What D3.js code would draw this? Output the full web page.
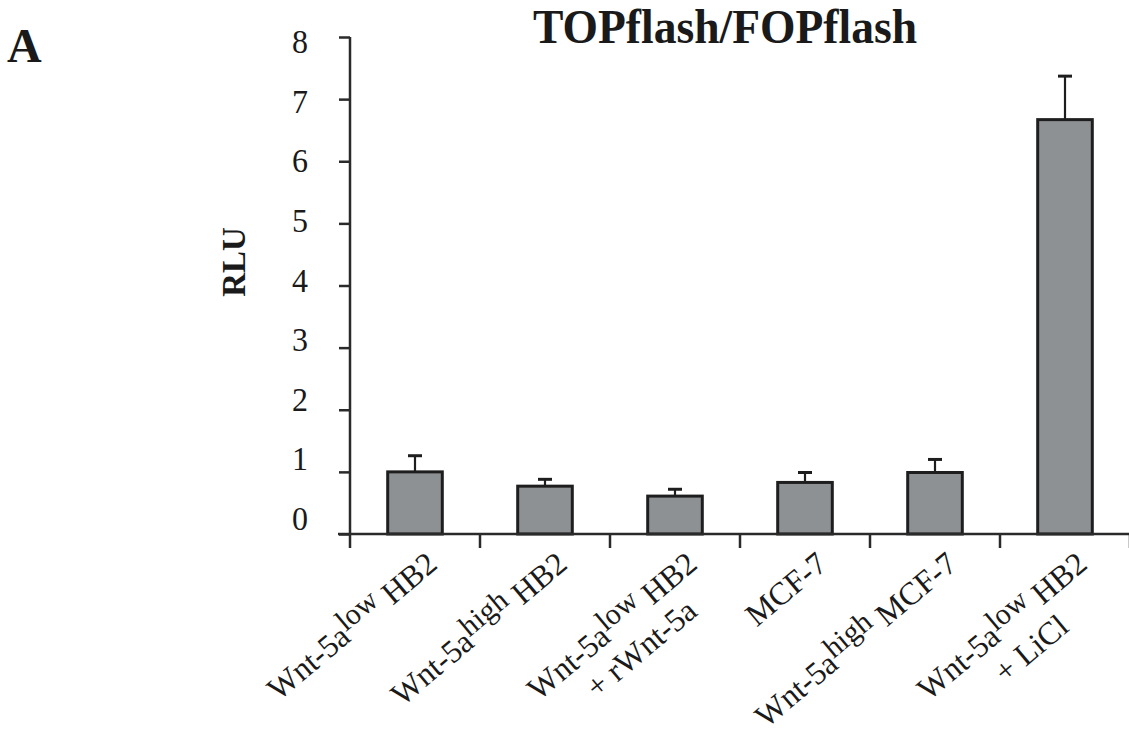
<!DOCTYPE html>
<html>
<head>
<meta charset="utf-8">
<script src="https://cdn.jsdelivr.net/npm/d3@7"></script>
<style>
  html, body { margin: 0; padding: 0; background: #fff; }
  svg { display: block; }
  text { font-family: "Liberation Serif", "Times New Roman", serif; fill: #1a1a1a; }
</style>
</head>
<body>
<svg id="chart" width="1129" height="733"></svg>
<script>
// ---- data ----
const categories = ["c1", "c2", "c3", "c4", "c5", "c6"];
const labelMain  = ["Wnt-5a", "Wnt-5a", "Wnt-5a", "MCF-7", "Wnt-5a", "Wnt-5a"];
const labelSup   = ["low", "high", "low", "", "high", "low"];
const labelRest  = [" HB2", " HB2", " HB2", "", " MCF-7", " HB2"];
const labelLine2 = ["", "", "+ rWnt-5a", "", "", "+ LiCl"];
const values     = [1.00, 0.77, 0.61, 0.83, 0.99, 6.67];
const errors     = [0.26, 0.11, 0.11, 0.16, 0.21, 0.70];
const yTicks     = [0, 1, 2, 3, 4, 5, 6, 7, 8];
const titleText  = "TOPflash/FOPflash";
const yTitle     = "RLU";
const panelLetter = "A";

// ---- layout ----
const svg = d3.select("#chart");
const axisColor = "#2a2a2a";
const barFill = "#8e9194";

const x = d3.scaleBand().domain(categories).range([350, 1130]).padding(0);
const y = d3.scaleLinear().domain([0, 8]).range([534, 37]);
const yLab = d3.scaleLinear().domain([0, 8]).range([518, 41]);
const barW = x.bandwidth() * 0.42;

// bars
svg.append("g").selectAll("rect").data(values).join("rect")
  .attr("x", (d, i) => x(categories[i]) + (x.bandwidth() - barW) / 2)
  .attr("y", d => y(d))
  .attr("width", barW)
  .attr("height", d => y(0) - y(d))
  .attr("fill", barFill)
  .attr("stroke", "#1e1e1e")
  .attr("stroke-width", 3);

// error bars
const eg = svg.append("g").attr("stroke", "#1e1e1e").attr("stroke-width", 2.2);
values.forEach((v, i) => {
  const cx = x(categories[i]) + x.bandwidth() / 2;
  eg.append("line").attr("x1", cx).attr("x2", cx).attr("y1", y(v)).attr("y2", y(v + errors[i]));
  eg.append("line").attr("x1", cx - 7).attr("x2", cx + 7).attr("y1", y(v + errors[i])).attr("y2", y(v + errors[i])).attr("stroke-width", 3);
});

// y axis
const yAxis = d3.axisLeft(y).tickValues(yTicks).tickSize(11).tickFormat("");
const yg = svg.append("g").attr("transform", "translate(350,0)").call(yAxis);
yg.select(".domain").remove();
yg.selectAll(".tick line").attr("stroke", axisColor).attr("stroke-width", 2.5);
svg.append("line").attr("x1", 350).attr("x2", 350).attr("y1", y(8)).attr("y2", y(0) + 14)
  .attr("stroke", axisColor).attr("stroke-width", 2.5);

// y tick labels
svg.append("g").selectAll("text").data(yTicks).join("text")
  .attr("transform", d => `translate(308,${yLab(d)}) scale(1,1.08)`)
  .attr("dy", "0.35em")
  .attr("text-anchor", "end").attr("font-size", 32).text(d => d);

// x axis line + ticks at band boundaries
svg.append("line").attr("x1", 338).attr("x2", 1129).attr("y1", y(0)).attr("y2", y(0))
  .attr("stroke", axisColor).attr("stroke-width", 2.5);
const bounds = categories.map(c => x(c)).concat([x.range()[1]]);
svg.append("g").selectAll("line").data(bounds.slice(1)).join("line")
  .attr("x1", d => d).attr("x2", d => d).attr("y1", y(0)).attr("y2", y(0) + 14)
  .attr("stroke", axisColor).attr("stroke-width", 2.5);

// x labels
categories.forEach((c, i) => {
  const cx = x(c) + x.bandwidth() / 2;
  const g = svg.append("g").attr("transform", `translate(${cx + 24},${y(0) + 33}) rotate(-40)`);
  const t = g.append("text").attr("text-anchor", "end").attr("font-size", 32);
  t.append("tspan").text(labelMain[i]);
  if (labelSup[i]) {
    t.append("tspan").attr("dy", -10).attr("font-size", 30).text(labelSup[i]);
    t.append("tspan").attr("dy", 10).text(labelRest[i]);
  }
  if (labelLine2[i]) {
    const len = t.node().getComputedTextLength();
    g.append("text").attr("text-anchor", "middle").attr("font-size", 32)
      .attr("x", -len / 2 + 8).attr("y", 36).text(labelLine2[i]);
  }
});

// title
svg.append("text").attr("transform", "translate(725,43) scale(0.97,1.02)").attr("text-anchor", "middle")
  .attr("font-size", 47).attr("font-weight", "bold").text(titleText);

// y title
svg.append("text").attr("transform", "translate(245,262) rotate(-90)")
  .attr("text-anchor", "middle").attr("font-size", 33).attr("font-weight", "bold").text(yTitle);

// panel letter
svg.append("text").attr("x", 7).attr("y", 62).attr("font-size", 48)
  .attr("font-weight", "bold").text(panelLetter);
</script>
</body>
</html>
